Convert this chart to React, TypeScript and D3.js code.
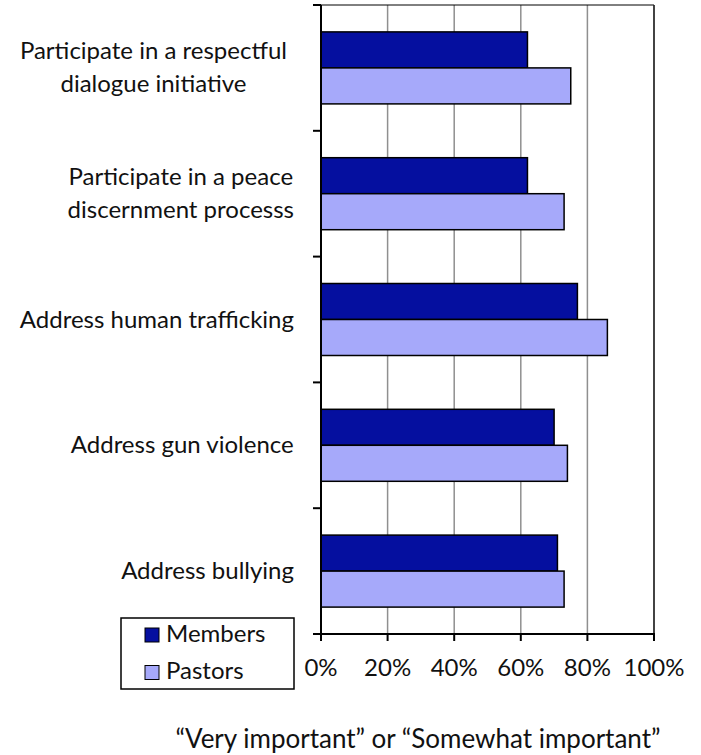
import React from "react";
import * as d3 from "d3";

const categories: string[][] = [
  ["Participate in a respectful", "dialogue initiative"],
  ["Participate in a peace", "discernment processs"],
  ["Address human trafficking"],
  ["Address gun violence"],
  ["Address bullying"],
];
const seriesNames = ["Members", "Pastors"];
const members = [0.62, 0.62, 0.77, 0.70, 0.71];
const pastors = [0.75, 0.73, 0.86, 0.74, 0.73];
const xTicks = [0, 0.2, 0.4, 0.6, 0.8, 1.0];
const axisTitle = "\u201CVery important\u201D or \u201CSomewhat important\u201D";

const colors: Record<string, string> = { Members: "#050f9f", Pastors: "#a6a9fa" };
const FONT = "Lato, sans-serif";

function measure(text: string, size: number): number {
  const c = document.createElement("canvas").getContext("2d");
  if (!c) return text.length * size * 0.5;
  c.font = `${size}px Lato`;
  return c.measureText(text).width;
}

export default function App() {
  const W = 701, H = 755;
  const left = 321, right = 654, top = 5, bottom = 634;
  const x = d3.scaleLinear().domain([0, 1]).range([left, right]);
  const keys = categories.map((_, i) => String(i));
  const y = d3.scaleBand().domain(keys).range([top, bottom]);
  const groupH = 72;
  const inner = d3.scaleBand().domain(seriesNames).range([0, groupH]);
  const values: Record<string, number[]> = { Members: members, Pastors: pastors };
  const boundaries = keys.map((k) => y(k) as number).concat([bottom]);
  const fs = 24;
  const lineH = 33;
  const labelRight = 294;

  return (
    <svg width={W} height={H} style={{ position: "absolute", left: 0, top: 0, background: "#fff" }} fontFamily={FONT}>
      {xTicks.slice(1, -1).map((t) => (
        <line key={"g" + t} x1={x(t)} x2={x(t)} y1={top} y2={bottom} stroke="#8f8f8f" strokeWidth={1.5} />
      ))}
      <line x1={left} x2={right} y1={top} y2={top} stroke="#000" strokeWidth={1} />
      <line x1={right} x2={right} y1={top} y2={bottom} stroke="#222" strokeWidth={1.7} />
      {keys.map((k, i) =>
        seriesNames.map((s) => {
          const y0 = (y(k) as number) + (y.bandwidth() - groupH) / 2 + (inner(s) as number);
          return (
            <rect
              key={k + s}
              x={x(0)}
              y={y0}
              width={x(values[s][i]) - x(0)}
              height={inner.bandwidth()}
              fill={colors[s]}
              stroke="#000"
              strokeWidth={1.5}
            />
          );
        })
      )}
      <line x1={left} x2={left} y1={top} y2={bottom + 7} stroke="#000" strokeWidth={2} />
      {boundaries.map((b, i) => (
        <line key={"yt" + i} x1={left - 8} x2={left} y1={b} y2={b} stroke="#000" strokeWidth={2} />
      ))}
      <line x1={left - 8} x2={right + 1} y1={bottom} y2={bottom} stroke="#000" strokeWidth={2} />
      {xTicks.map((t) => (
        <g key={"xt" + t}>
          <line x1={x(t)} x2={x(t)} y1={bottom} y2={bottom + 7} stroke="#000" strokeWidth={2} />
          <text x={x(t)} y={676} textAnchor="middle" fontSize={fs} fill="#111">
            {d3.format(".0%")(t)}
          </text>
        </g>
      ))}
      {categories.map((lines, i) => {
        const cy = (y(keys[i]) as number) + y.bandwidth() / 2;
        const maxW = Math.max(...lines.map((l) => measure(l, fs)));
        const cx = (i === 0 ? labelRight - 7 : labelRight) - maxW / 2;
        const firstBase = cy - ((lines.length - 1) * lineH) / 2 + 8;
        return (
          <text key={"c" + i} textAnchor="middle" fontSize={fs} fill="#111">
            {lines.map((l, j) => (
              <tspan key={j} x={cx} y={firstBase + j * lineH}>
                {l}
              </tspan>
            ))}
          </text>
        );
      })}
      <rect x={121} y={618} width={173} height={71} fill="#fff" stroke="#000" strokeWidth={1.5} />
      {seriesNames.map((s, i) => (
        <g key={"l" + s}>
          <rect x={145} y={628 + i * 37.5} width={14} height={14} fill={colors[s]} stroke="#000" strokeWidth={1} />
          <text x={166} y={642 + i * 36.6} fontSize={fs} fill="#111">
            {s}
          </text>
        </g>
      ))}
      <text x={418} y={748} textAnchor="middle" fontSize={26} fill="#111">
        {axisTitle}
      </text>
    </svg>
  );
}
